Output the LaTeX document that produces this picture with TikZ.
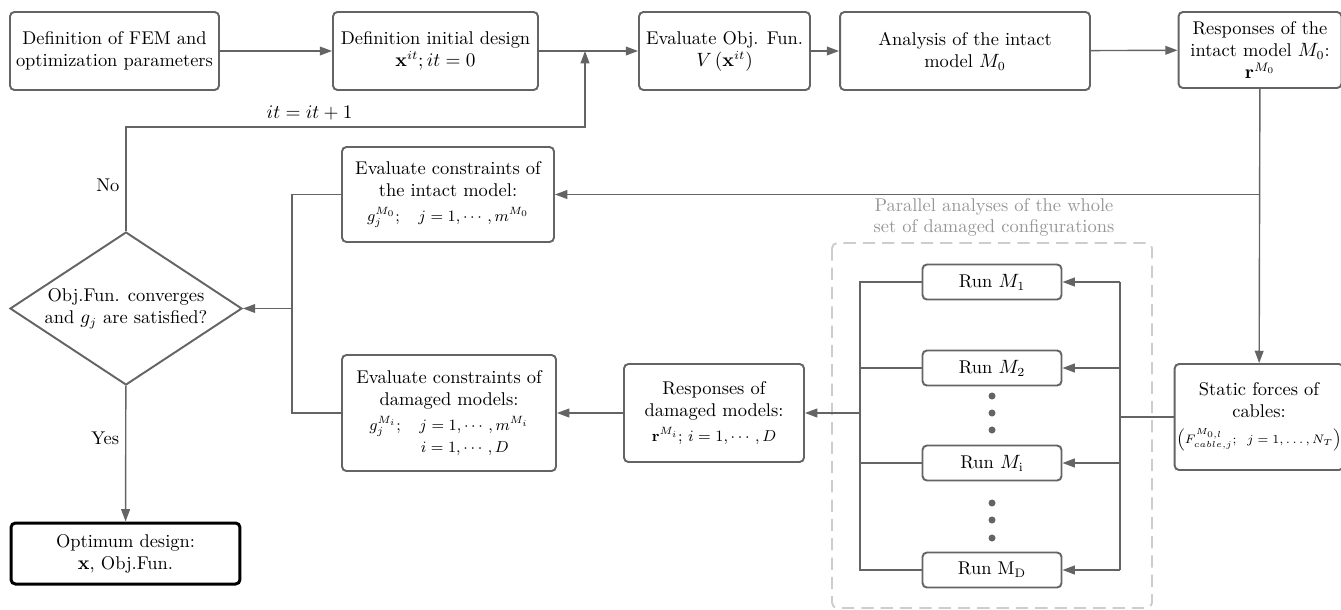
\documentclass[tikz,border=0pt]{standalone}
\usepackage{amsmath,amssymb}
\usetikzlibrary{shapes.geometric,arrows.meta,positioning}
\definecolor{flowgray}{RGB}{100,100,100}
\definecolor{softgray}{RGB}{205,205,205}
\definecolor{notegray}{RGB}{150,150,150}

\begin{document}
\begin{tikzpicture}[x=0.02cm,y=-0.02cm,>={Triangle[length=7pt,width=5pt]},
  font=\fontsize{10.5}{12.5}\selectfont,
  procbox/.style={draw=flowgray,line width=1.1pt,rounded corners=2.5pt,align=center,inner sep=2pt,minimum height=1.56cm},
  runbox/.style={procbox,minimum width=2.78cm,minimum height=0.7cm},
  decbox/.style={diamond,draw=flowgray,line width=1.1pt,align=center,aspect=1.5,inner sep=0pt,minimum width=4.64cm,minimum height=3.06cm},
  finalbox/.style={draw=black,line width=1.7pt,rounded corners=2.5pt,align=center,minimum width=4.58cm,minimum height=1.22cm},
  link/.style={draw=flowgray,line width=0.8pt},
  every edge/.style={link}]
  \useasboundingbox (0,0) rectangle (1341,609);

  % top row
  \node[procbox,minimum width=4.18cm] (fem) at (114.5,51) {Definition of FEM and\\optimization parameters};
  \node[procbox,minimum width=4.1cm] (init) at (435.5,51) {Definition initial design\\$\mathbf{x}^{it}; it=0$};
  \node[procbox,minimum width=3.42cm] (obj) at (724.5,51) {Evaluate Obj. Fun.\\$V\left(\mathbf{x}^{it}\right)$};
  \node[procbox,minimum width=5cm] (intact) at (965,51) {Analysis of the intact\\model $M_0$};
  \node[procbox,minimum width=3.26cm,minimum height=1.52cm,inner sep=1pt] (resp0) at (1260,50) {Responses of the\\intact model $M_0$:\\$\mathbf{r}^{M_0}$};

  % constraints and decision
  \node[procbox,minimum width=4.24cm,minimum height=1.9cm] (gint) at (448,194.5) {Evaluate constraints of\\the intact model:\\[2pt]{\small$g_j^{M_0};\quad j=1,\cdots,m^{M_0}$}};
  \node[procbox,minimum width=4.28cm,minimum height=2.32cm] (gdmg) at (449,413) {Evaluate constraints of\\damaged models:\\[2pt]{\small$g_j^{M_i};\quad j=1,\cdots,m^{M_i}$}\\{\small$\quad\quad i=1,\cdots,D$}};
  \node[decbox] (conv) at (126,308.5) {Obj.Fun. converges\\and $g_j$ are satisfied?};
  \node[finalbox] (opt) at (125.5,553.5) {Optimum design:\\$\mathbf{x}$, Obj.Fun.};

  % damaged configurations
  \node[procbox,minimum width=3.6cm,minimum height=1.96cm] (respd) at (714,413) {Responses of\\damaged models:\\[2pt]{\small$\mathbf{r}^{M_i};\, i=1,\cdots,D$}};
  \node[procbox,minimum width=3.3cm,minimum height=2.12cm,inner sep=1pt] (stat) at (1259,417) {Static forces of\\cables:\\[2pt]{\scriptsize$\left(F^{M_{0,l}}_{cable,j};\;\; j=1,\ldots,N_T\right)$}};
  \node[runbox] (run1) at (992,282) {Run $M_1$};
  \node[runbox] (run2) at (992,368) {Run $M_2$};
  \node[runbox] (runi) at (992,463) {Run $M_{\mathrm{i}}$};
  \node[runbox] (runD) at (992,570) {Run M$_{\mathrm{D}}$};
  \foreach \y in {396,413,430,503,520,538}
    \fill[flowgray] (992,\y) circle[radius=2pt];

  \draw[softgray,line width=1.1pt,dash pattern=on 7pt off 4pt,rounded corners=3pt] (832,243) rectangle (1152,608);
  \node[notegray,align=center,anchor=south] (parlabel) at (994,243) {Parallel analyses of the whole\\set of damaged configurations};

  % connectors
  \path[->] (fem) edge (init)
    (init) edge (obj)
    (obj) edge (intact)
    (intact) edge (resp0)
    (resp0) edge (stat)
    (respd) edge (gdmg)
    (conv) edge node[pos=0.39,left] {Yes} (opt);

  \coordinate (fbjoin) at (585,51);
  \coordinate (fbturn) at (585,127);
  \draw[link,->] (conv.north) |- node[pos=0.22,left] {No} node[pos=0.7,above] {$it=it+1$} (fbturn) -- (fbjoin);

  \coordinate (tap) at (resp0.south |- gint.east);
  \draw[link,->] (tap) -- (gint.east);
  \coordinate (gather) at (292,308.5);
  \draw[link] (gint.west) -| (gather) |- (gdmg.west);
  \draw[link,->] (gather) -- (conv.east);

  \coordinate (lbus) at (860,413);
  \coordinate (rbus) at (1120,417);
  \draw[link] (run1.west) -- (run1.west -| lbus) -- (runD.west -| lbus) -- (runD.west);
  \draw[link] (run2.west) -- (run2.west -| lbus);
  \draw[link] (runi.west) -- (runi.west -| lbus);
  \draw[link,->] (lbus) -- (respd.east);
  \draw[link] (stat.west) -- (rbus);
  \draw[link] (rbus |- run1.east) -- (rbus |- runD.east);
  \foreach \r in {run1,run2,runi,runD}
    \draw[link,->] (rbus |- \r.east) -- (\r.east);
\end{tikzpicture}
\end{document}
